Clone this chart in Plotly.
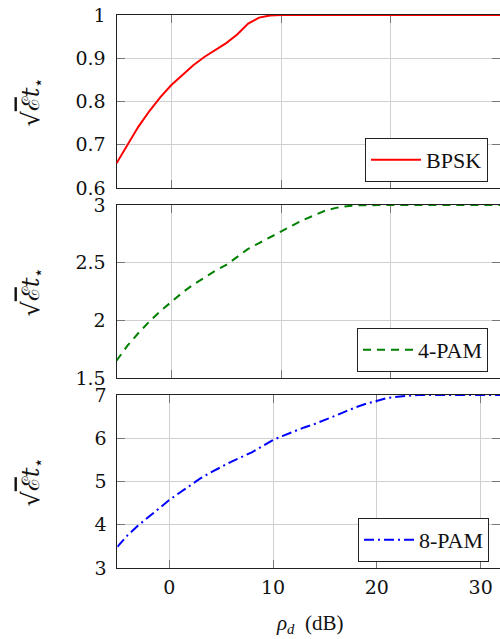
import plotly.graph_objects as go

x_vals = [-5, -4, -3, -2, -1, 0, 1, 2, 3, 4, 5, 6, 7, 8, 9, 10, 11, 12, 13, 14, 15,
          16, 17, 18, 19, 20, 21, 22, 23, 24, 25, 26, 27, 28, 29, 30, 31, 32, 33, 34, 35]

bpsk = [0.657, 0.700, 0.742, 0.778, 0.810, 0.838, 0.862, 0.884, 0.903, 0.919, 0.935,
        0.955, 0.980, 0.994, 0.999, 1.0, 1.0, 1.0, 1.0, 1.0, 1.0,
        1.0, 1.0, 1.0, 1.0, 1.0, 1.0, 1.0, 1.0, 1.0, 1.0, 1.0, 1.0, 1.0, 1.0, 1.0,
        1.0, 1.0, 1.0, 1.0, 1.0]

pam4 = [1.65, 1.78, 1.89, 1.99, 2.08, 2.16, 2.24, 2.31, 2.37, 2.43, 2.48,
        2.55, 2.62, 2.67, 2.72, 2.77, 2.82, 2.87, 2.91, 2.95, 2.975,
        2.99, 2.998, 3.0, 3.0, 3.0, 3.0, 3.0, 3.0, 3.0, 3.0, 3.0, 3.0, 3.0, 3.0, 3.0,
        3.0, 3.0, 3.0, 3.0, 3.0]

pam8 = [3.49, 3.76, 3.98, 4.18, 4.38, 4.57, 4.74, 4.91, 5.07, 5.21, 5.34,
        5.46, 5.57, 5.68, 5.82, 5.96, 6.06, 6.16, 6.25, 6.33, 6.42,
        6.52, 6.62, 6.72, 6.80, 6.87, 6.93, 6.96, 6.985, 7.0, 7.0, 7.0, 7.0, 7.0, 7.0, 7.0,
        7.0, 7.0, 7.0, 7.0, 7.0]

x_ticks = [0, 10, 20, 30]
y1_ticks = [0.6, 0.7, 0.8, 0.9, 1.0]
y1_labels = ["0.6", "0.7", "0.8", "0.9", "1"]
y2_ticks = [1.5, 2.0, 2.5, 3.0]
y2_labels = ["1.5", "2", "2.5", "3"]
y3_ticks = [3, 4, 5, 6, 7]
y3_labels = ["3", "4", "5", "6", "7"]

W, H = 500, 639
FONT = "DejaVu Serif"
FONT_L = "Liberation Serif"

fig = go.Figure()
fig.add_trace(go.Scatter(x=x_vals, y=bpsk, mode="lines", name="BPSK",
                         line=dict(color="#ff0000", width=2), xaxis="x", yaxis="y",
                         legend="legend"))
fig.add_trace(go.Scatter(x=x_vals, y=pam4, mode="lines", name="4-PAM",
                         line=dict(color="#008000", width=2, dash="8px,6px"),
                         xaxis="x2", yaxis="y2", legend="legend2"))
fig.add_trace(go.Scatter(x=x_vals, y=pam8, mode="lines", name="8-PAM",
                         line=dict(color="#0000ff", width=2, dash="10px,4px,2px,4px"),
                         xaxis="x3", yaxis="y3", legend="legend3"))

def py(p):
    return 1 - p / H

panels = [(15, 188), (205, 378), (395, 568)]
xleft = [116.5 / W, 116.5 / W, 117.3 / W]
xranges = [[-5, 29.95], [-5, 29.95], [-5, 31.86]]
yranges = [[0.6, 1.0], [1.5, 3.0], [3, 7]]
yticks = [(y1_ticks, y1_labels), (y2_ticks, y2_labels), (y3_ticks, y3_labels)]

axcommon = dict(showgrid=True, gridcolor="#d0d0d0", gridwidth=1,
                showline=True, linecolor="#222222", linewidth=1,
                ticks="inside", ticklen=8, tickcolor="#777777", tickwidth=1,
                mirror="ticks", zeroline=False, automargin=False, layer="below traces",
                tickfont=dict(family=FONT, size=19, color="#111111"))

layout = dict(width=W, height=H, margin=dict(l=0, r=0, t=0, b=0),
              plot_bgcolor="white", paper_bgcolor="white", showlegend=True)

for i in range(3):
    sfx = "" if i == 0 else str(i + 1)
    top, bot = panels[i]
    layout["xaxis" + sfx] = dict(axcommon, domain=[xleft[i], 1.0], range=xranges[i],
                                 anchor="y" + sfx, tickvals=x_ticks,
                                 ticktext=[str(v) for v in x_ticks],
                                 showticklabels=(i == 2), ticklabelstandoff=2)
    layout["yaxis" + sfx] = dict(axcommon, domain=[py(bot), py(top)], range=yranges[i],
                                 anchor="x" + sfx, tickvals=yticks[i][0],
                                 ticktext=yticks[i][1], ticklabelstandoff=6)

legpos = [(488, 182), (488, 372), (489, 562)]
for i, (lx, ly) in enumerate(legpos):
    key = "legend" if i == 0 else "legend" + str(i + 1)
    layout[key] = dict(x=lx / W, y=py(ly), xanchor="right", yanchor="bottom",
                       bgcolor="white", bordercolor="#222222", borderwidth=1,
                       itemwidth=50,
                       font=dict(family=FONT_L, size=22, color="#111111"))

fig.update_layout(**layout)

ytitle = "√<span style='text-decoration:overline'>ℰ</span><i>t</i><sub>⋆</sub>"
for top, bot in panels:
    fig.add_annotation(x=32 / W, y=py((top + bot) / 2), xref="paper", yref="paper",
                       text=ytitle, textangle=-90, showarrow=False,
                       xanchor="center", yanchor="middle",
                       font=dict(family=FONT, size=24, color="#111111"))

fig.add_annotation(x=309 / W, y=py(624), xref="paper", yref="paper",
                   text="<i>ρ</i><sub><i>d</i></sub>  (dB)", showarrow=False,
                   xanchor="center", yanchor="middle",
                   font=dict(family=FONT_L, size=21, color="#111111"))

fig.write_html("out.html")
